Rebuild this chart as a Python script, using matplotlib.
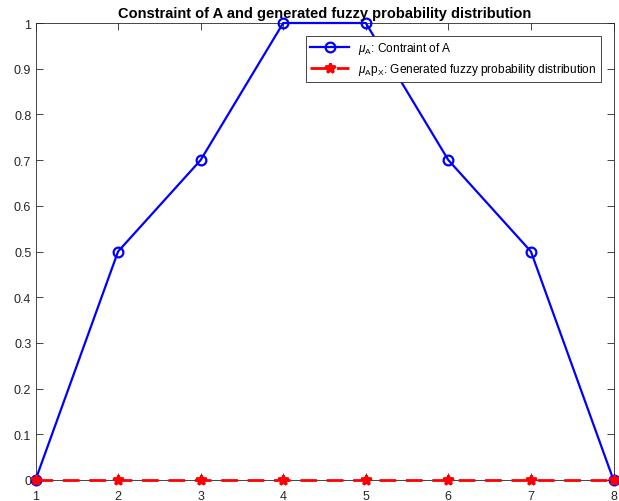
import matplotlib
matplotlib.use("Agg")
import matplotlib.pyplot as plt
import numpy as np

plt.rcParams['font.family'] = ['Liberation Sans', 'DejaVu Sans']
plt.rcParams['mathtext.fontset'] = 'custom'
plt.rcParams['mathtext.rm'] = 'Liberation Sans'
plt.rcParams['mathtext.it'] = 'Liberation Sans:italic'

x = [1, 2, 3, 4, 5, 6, 7, 8]
mu_A = [0, 0.5, 0.7, 1, 1, 0.7, 0.5, 0]
mu_px = [0, 0, 0, 0, 0, 0, 0, 0]

fig = plt.figure(figsize=(6.19, 5.02), dpi=100)
ax = fig.add_axes([35.5/619, 21/502, 578/619, 457/502])

ax.plot(x, mu_A, color="#0000ff", linewidth=1.6, marker="o",
        markersize=7, markerfacecolor="none", markeredgewidth=1.6,
        clip_on=False, zorder=3,
        label=r"$\mu_{\rm A}$: Contraint of A")
ax.plot(x, mu_px, color="#ff0000", linewidth=2, linestyle=(0, (6, 3.5)),
        marker="*", markersize=7, markeredgewidth=2,
        clip_on=False, zorder=4,
        label=r"$\mu_{\rm A}{\rm p}_{\rm X}$: Generated fuzzy probability distribution")

ax.set_xlim(1, 8)
ax.set_ylim(0, 1)
ax.set_xticks(np.arange(1, 9))
ax.set_yticks(np.arange(0, 1.01, 0.1))
ax.set_yticklabels(["0", "0.1", "0.2", "0.3", "0.4", "0.5", "0.6", "0.7", "0.8", "0.9", "1"])
ax.tick_params(direction="in", top=True, right=True, labelsize=9, length=5, width=0.6,
               colors="#262626", pad=3)
ax.tick_params(axis="x", pad=7)
for s in ax.spines.values():
    s.set_linewidth(0.6)
    s.set_color("#262626")

ax.set_title("Constraint of A and generated fuzzy probability distribution",
             fontsize=10.5, fontweight="bold", pad=4)

leg = ax.legend(loc="upper right", bbox_to_anchor=(0.978, 0.972), borderaxespad=0,
                fontsize=8.6, fancybox=False, framealpha=1, edgecolor="#262626",
                handlelength=3.2, borderpad=0.35, labelspacing=0.45)
leg.get_frame().set_linewidth(0.6)

fig.savefig("out.png", dpi=100)
